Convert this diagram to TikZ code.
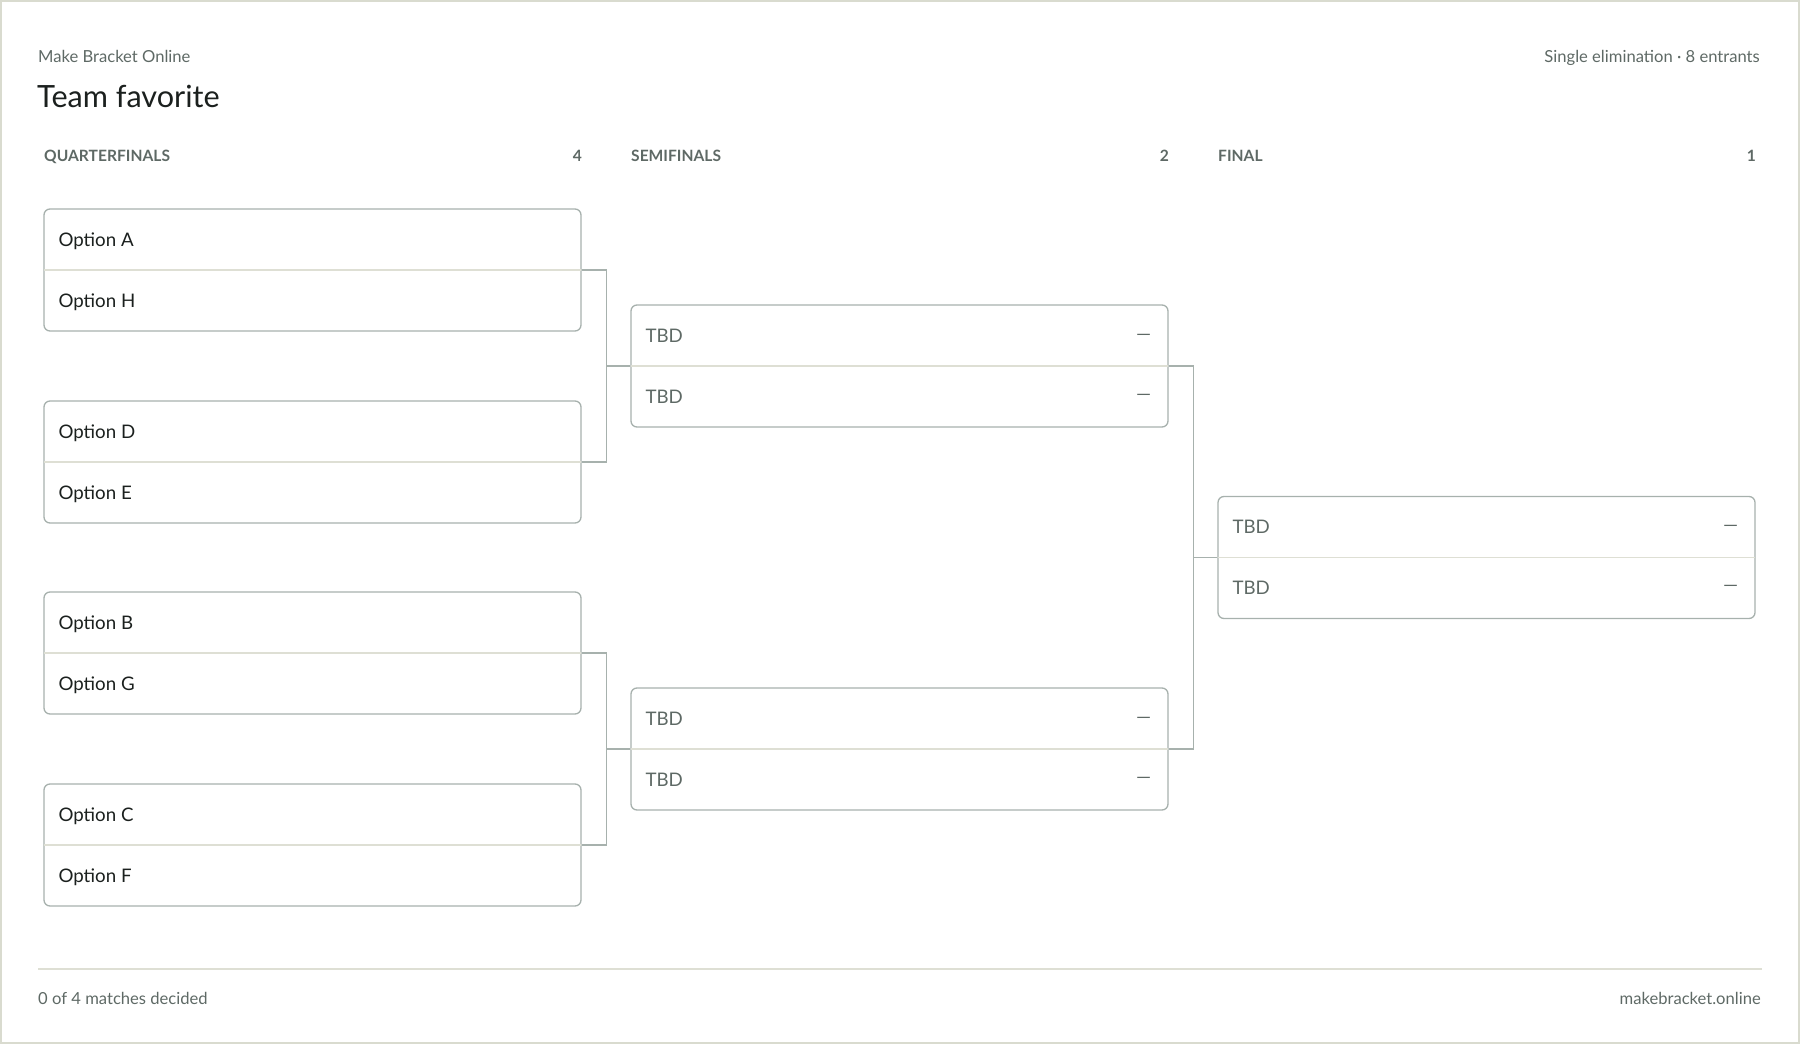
\documentclass[tikz,border=0pt]{standalone}
\usepackage{fontspec}
\setmainfont{Lato}
\usetikzlibrary{calc}

\definecolor{framegray}{HTML}{D9DBCF}
\definecolor{boxline}{HTML}{A7B1AD}
\definecolor{rowline}{HTML}{DEDFD4}
\definecolor{inkdark}{HTML}{1B201E}
\definecolor{inkgray}{HTML}{5E6965}

\begin{document}
\begin{tikzpicture}[x = 1pt, y = -1pt,
		match/.style = {draw = boxline, line width = 1.3pt, rounded corners = 6pt, minimum width = 537pt, minimum height = 122pt, inner sep = 0pt},
		link/.style = {draw = boxline, line width = 1.3pt},
		divider/.style = {draw = rowline, line width = 1.3pt, shorten <= 0.7pt, shorten >= 0.7pt},
		entrant/.style = {anchor = base west, inner sep = 0pt, text = inkdark, font = \fontsize{18.7}{21}\selectfont},
		pending/.style = {anchor = base west, inner sep = 0pt, text = inkgray, font = \fontsize{18.7}{21}\selectfont},
		score/.style = {anchor = center, inner sep = 0pt, text = inkgray, font = \fontsize{19}{21}\selectfont},
		roundname/.style = {inner sep = 0pt, text = inkgray, font = \fontsize{15.6}{18}\selectfont\bfseries},
		smalltext/.style = {inner sep = 0pt, text = inkgray, font = \fontsize{16.6}{19}\selectfont}]
		% Frame
		\useasboundingbox (0,0) rectangle (1800,1044);
		\draw[framegray, line width = 2pt] (1,1) rectangle (1799,1043);
		% Header
		\node[smalltext, anchor = base west] (brand) at (38,62) {Make Bracket Online};
		\node[inner sep = 0pt, anchor = base west, text = inkdark, font = \fontsize{30.6}{34}\selectfont] (title) at (37,107) {Team favorite};
		\node[smalltext, anchor = base east] (kind) at (1760,62) {Single elimination · 8 entrants};
		% Round headings
		\node[roundname, anchor = base west] (qfname) at (44,161) {QUARTERFINALS};
		\node[roundname, anchor = base east] (qfcount) at (582,161) {4};
		\node[roundname, anchor = base west] (sfname) at (631,161) {SEMIFINALS};
		\node[roundname, anchor = base east] (sfcount) at (1169,161) {2};
		\node[roundname, anchor = base west] (fname) at (1218,161) {FINAL};
		\node[roundname, anchor = base east] (fcount) at (1756,161) {1};
		% Connectors
		\node[match] (q1) at (312.5,270) {};
		\node[match] (q2) at (312.5,462) {};
		\node[match] (q3) at (312.5,653) {};
		\node[match] (q4) at (312.5,845) {};
		\node[match] (s1) at (899.5,366) {};
		\node[match] (s2) at (899.5,749) {};
		\node[match] (f1) at (1486.5,557.5) {};
		\draw[link] (q1.east) -- ++(24.5,0) coordinate (k1) |- (q2.east);
		\draw[link] (k1 |- s1.west) -- (s1.west);
		\draw[link] (q3.east) -- ++(24.5,0) coordinate (k2) |- (q4.east);
		\draw[link] (k2 |- s2.west) -- (s2.west);
		\draw[link] (s1.east) -- ++(24.5,0) coordinate (k3) |- (s2.east);
		\draw[link] (k3 |- f1.west) -- (f1.west);
		% Row dividers
		\draw[divider] (q1.west) -- (q1.east);
		\draw[divider] (q2.west) -- (q2.east);
		\draw[divider] (q3.west) -- (q3.east);
		\draw[divider] (q4.west) -- (q4.east);
		\draw[divider] (s1.west) -- (s1.east);
		\draw[divider] (s2.west) -- (s2.east);
		\draw[divider] (f1.west) -- (f1.east);
		% Quarterfinal entrants
		\node[entrant] (qa) at ($(q1.west)+(15,-24)$) {Option A};
		\node[entrant] (qh) at ($(q1.west)+(15,37)$) {Option H};
		\node[entrant] (qd) at ($(q2.west)+(15,-24)$) {Option D};
		\node[entrant] (qe) at ($(q2.west)+(15,37)$) {Option E};
		\node[entrant] (qb) at ($(q3.west)+(15,-24)$) {Option B};
		\node[entrant] (qg) at ($(q3.west)+(15,37)$) {Option G};
		\node[entrant] (qc) at ($(q4.west)+(15,-24)$) {Option C};
		\node[entrant] (qf) at ($(q4.west)+(15,37)$) {Option F};
		% Later rounds
		\node[pending] (s1top) at ($(s1.west)+(15,-24)$) {TBD};
		\node[pending] (s1bot) at ($(s1.west)+(15,37)$) {TBD};
		\node[pending] (s2top) at ($(s2.west)+(15,-24)$) {TBD};
		\node[pending] (s2bot) at ($(s2.west)+(15,37)$) {TBD};
		\node[pending] (f1top) at ($(f1.west)+(15,-24)$) {TBD};
		\node[pending] (f1bot) at ($(f1.west)+(15,37)$) {TBD};
		\node[score] (s1a) at ($(s1.east)+(-25,-29)$) {—};
		\node[score] (s1b) at ($(s1.east)+(-25,31)$) {—};
		\node[score] (s2a) at ($(s2.east)+(-25,-29)$) {—};
		\node[score] (s2b) at ($(s2.east)+(-25,31)$) {—};
		\node[score] (f1a) at ($(f1.east)+(-25,-29)$) {—};
		\node[score] (f1b) at ($(f1.east)+(-25,31)$) {—};
		% Footer
		\draw[rowline, line width = 1.5pt] (38,969) -- (1762,969);
		\node[smalltext, anchor = base west] (progress) at (38,1004) {0 of 4 matches decided};
		\node[smalltext, anchor = base east] (site) at (1761,1004) {makebracket.online};
	\end{tikzpicture}
\end{document}
